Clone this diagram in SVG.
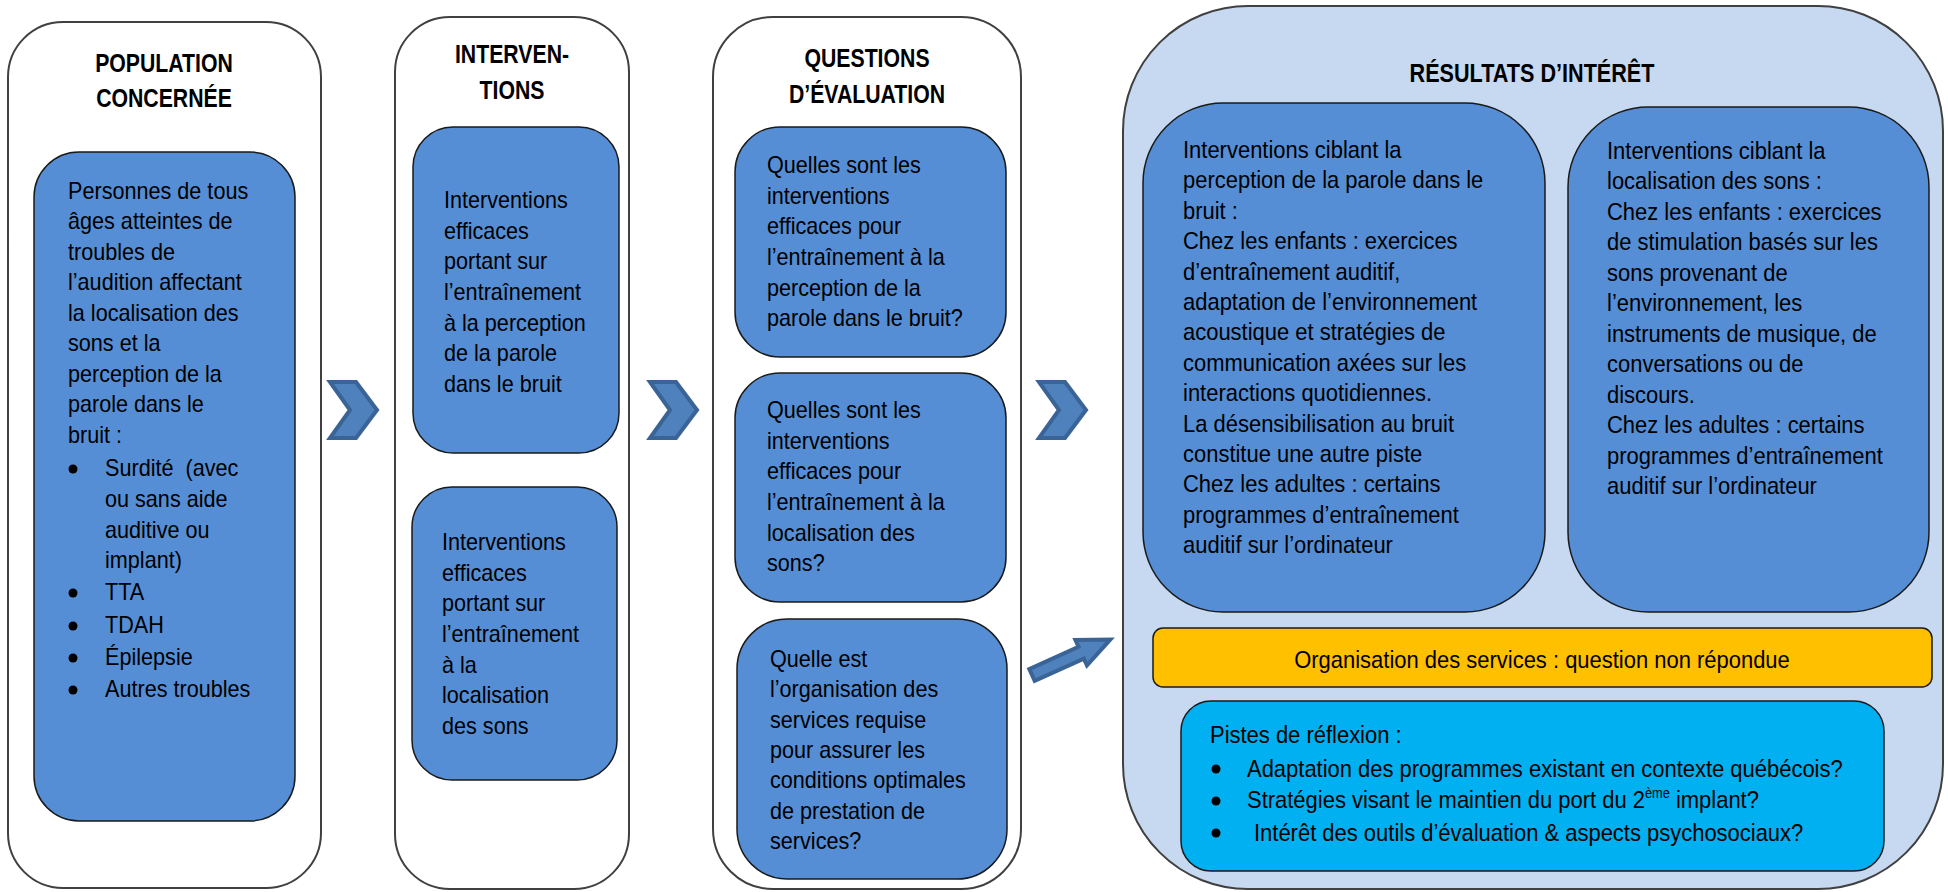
<svg xmlns="http://www.w3.org/2000/svg" width="1948" height="892" viewBox="0 0 1948 892">
<defs>
<style>
.outer{fill:#ffffff;stroke:#404040;stroke-width:2}
.res{fill:#c6d9f1;stroke:#404040;stroke-width:2}
.box{fill:#558ed5;stroke:#1a1a1a;stroke-width:1.5}
.org{fill:#ffc000;stroke:#1a1a1a;stroke-width:1.5}
.pis{fill:#00b0f0;stroke:#1a1a1a;stroke-width:1.5}
.h{font-family:"Liberation Sans",Arial,sans-serif;font-weight:bold;font-size:25px;fill:#000;text-anchor:middle}
.t{font-family:"Liberation Sans",Arial,sans-serif;font-size:23px;fill:#000}
.r{font-family:"Liberation Sans",Arial,sans-serif;font-size:24px;fill:#000}
.chev{fill:#4f81bd;stroke:#3a6496;stroke-width:4;stroke-linejoin:miter}
.dot{fill:#000}
</style>
</defs>

<g id="col-population">
<rect class="outer" x="8" y="22" width="313" height="866" rx="55"/>
<text class="h" transform="translate(164,0) scale(0.85,1)"><tspan x="0" y="72">POPULATION</tspan><tspan x="0" y="107">CONCERNÉE</tspan></text>
<g id="node-population">
<rect class="box" x="34" y="152" width="261" height="669" rx="45"/>
<text class="t" transform="translate(68,0) scale(0.94,1)">
<tspan x="0" y="199">Personnes de tous</tspan>
<tspan x="0" y="229.5">âges atteintes de</tspan>
<tspan x="0" y="260">troubles de</tspan>
<tspan x="0" y="290.5">l’audition affectant</tspan>
<tspan x="0" y="321">la localisation des</tspan>
<tspan x="0" y="351.5">sons et la</tspan>
<tspan x="0" y="382">perception de la</tspan>
<tspan x="0" y="412.5">parole dans le</tspan>
<tspan x="0" y="443">bruit :</tspan>
</text>
<text class="t" transform="translate(105,0) scale(0.94,1)" xml:space="preserve"><tspan x="0" y="476">Surdité  (avec</tspan><tspan x="0" y="507">ou sans aide</tspan><tspan x="0" y="538">auditive ou</tspan><tspan x="0" y="568">implant)</tspan><tspan x="0" y="600">TTA</tspan><tspan x="0" y="633">TDAH</tspan><tspan x="0" y="665">Épilepsie</tspan><tspan x="0" y="697">Autres troubles</tspan></text>
<circle class="dot" cx="73" cy="469" r="4.5"/>
<circle class="dot" cx="73" cy="593" r="4.5"/>
<circle class="dot" cx="73" cy="626" r="4.5"/>
<circle class="dot" cx="73" cy="658" r="4.5"/>
<circle class="dot" cx="73" cy="690" r="4.5"/>
</g>
</g>

<g id="col-interventions">
<rect class="outer" x="395" y="17" width="234" height="872" rx="55"/>
<text class="h" transform="translate(512,0) scale(0.85,1)"><tspan x="0" y="63">INTERVEN-</tspan><tspan x="0" y="99">TIONS</tspan></text>
<g id="node-int1">
<rect class="box" x="413" y="127" width="206" height="326" rx="40"/>
<text class="t" transform="translate(444,0) scale(0.94,1)">
<tspan x="0" y="208">Interventions</tspan>
<tspan x="0" y="238.7">efficaces</tspan>
<tspan x="0" y="269.3">portant sur</tspan>
<tspan x="0" y="300">l’entraînement</tspan>
<tspan x="0" y="330.7">à la perception</tspan>
<tspan x="0" y="361.3">de la parole</tspan>
<tspan x="0" y="392">dans le bruit</tspan>
</text>
</g>
<g id="node-int2">
<rect class="box" x="412" y="487" width="205" height="293" rx="40"/>
<text class="t" transform="translate(442,0) scale(0.94,1)">
<tspan x="0" y="550">Interventions</tspan>
<tspan x="0" y="580.7">efficaces</tspan>
<tspan x="0" y="611.3">portant sur</tspan>
<tspan x="0" y="642">l’entraînement</tspan>
<tspan x="0" y="672.7">à la</tspan>
<tspan x="0" y="703.3">localisation</tspan>
<tspan x="0" y="734">des sons</tspan>
</text>
</g>
</g>

<g id="col-questions">
<rect class="outer" x="713" y="17" width="308" height="872" rx="60"/>
<text class="h" transform="translate(867,0) scale(0.85,1)"><tspan x="0" y="67">QUESTIONS</tspan><tspan x="0" y="103">D’ÉVALUATION</tspan></text>
<g id="node-q1">
<rect class="box" x="735" y="127" width="271" height="230" rx="45"/>
<text class="t" transform="translate(767,0) scale(0.94,1)">
<tspan x="0" y="173">Quelles sont les</tspan>
<tspan x="0" y="203.7">interventions</tspan>
<tspan x="0" y="234.3">efficaces pour</tspan>
<tspan x="0" y="265">l’entraînement à la</tspan>
<tspan x="0" y="295.7">perception de la</tspan>
<tspan x="0" y="326.3">parole dans le bruit?</tspan>
</text>
</g>
<g id="node-q2">
<rect class="box" x="735" y="373" width="271" height="229" rx="45"/>
<text class="t" transform="translate(767,0) scale(0.94,1)">
<tspan x="0" y="418">Quelles sont les</tspan>
<tspan x="0" y="448.7">interventions</tspan>
<tspan x="0" y="479.3">efficaces pour</tspan>
<tspan x="0" y="510">l’entraînement à la</tspan>
<tspan x="0" y="540.7">localisation des</tspan>
<tspan x="0" y="571.3">sons?</tspan>
</text>
</g>
<g id="node-q3">
<rect class="box" x="737" y="619" width="270" height="260" rx="50"/>
<text class="t" transform="translate(770,0) scale(0.94,1)">
<tspan x="0" y="667">Quelle est</tspan>
<tspan x="0" y="697.3">l’organisation des</tspan>
<tspan x="0" y="727.7">services requise</tspan>
<tspan x="0" y="758">pour assurer les</tspan>
<tspan x="0" y="788.3">conditions optimales</tspan>
<tspan x="0" y="818.7">de prestation de</tspan>
<tspan x="0" y="849">services?</tspan>
</text>
</g>
</g>

<g id="col-resultats">
<rect class="res" x="1123" y="6" width="820" height="883" rx="125"/>
<text class="h" transform="translate(1532,0) scale(0.865,1)"><tspan x="0" y="82">RÉSULTATS D’INTÉRÊT</tspan></text>
<g id="node-r1">
<rect class="box" x="1143" y="103" width="402" height="509" rx="80"/>
<text class="r" transform="translate(1183,0) scale(0.915,1)">
<tspan x="0" y="158">Interventions ciblant la</tspan>
<tspan x="0" y="188.4">perception de la parole dans le</tspan>
<tspan x="0" y="218.8">bruit :</tspan>
<tspan x="0" y="249.2">Chez les enfants : exercices</tspan>
<tspan x="0" y="279.6">d’entraînement auditif,</tspan>
<tspan x="0" y="310">adaptation de l’environnement</tspan>
<tspan x="0" y="340.4">acoustique et stratégies de</tspan>
<tspan x="0" y="370.8">communication axées sur les</tspan>
<tspan x="0" y="401.2">interactions quotidiennes.</tspan>
<tspan x="0" y="431.6">La désensibilisation au bruit</tspan>
<tspan x="0" y="462">constitue une autre piste</tspan>
<tspan x="0" y="492.4">Chez les adultes : certains</tspan>
<tspan x="0" y="522.8">programmes d’entraînement</tspan>
<tspan x="0" y="553.2">auditif sur l’ordinateur</tspan>
</text>
</g>
<g id="node-r2">
<rect class="box" x="1568" y="107" width="361" height="505" rx="80"/>
<text class="r" transform="translate(1607,0) scale(0.915,1)">
<tspan x="0" y="159">Interventions ciblant la</tspan>
<tspan x="0" y="189.5">localisation des sons :</tspan>
<tspan x="0" y="220">Chez les enfants : exercices</tspan>
<tspan x="0" y="250.5">de stimulation basés sur les</tspan>
<tspan x="0" y="281">sons provenant de</tspan>
<tspan x="0" y="311.5">l’environnement, les</tspan>
<tspan x="0" y="342">instruments de musique, de</tspan>
<tspan x="0" y="372.5">conversations ou de</tspan>
<tspan x="0" y="403">discours.</tspan>
<tspan x="0" y="433.5">Chez les adultes : certains</tspan>
<tspan x="0" y="464">programmes d’entraînement</tspan>
<tspan x="0" y="494.5">auditif sur l’ordinateur</tspan>
</text>
</g>
<g id="node-org">
<rect class="org" x="1153" y="628" width="779" height="59" rx="10"/>
<text class="r" transform="translate(1542,0) scale(0.915,1)" text-anchor="middle"><tspan x="0" y="668">Organisation des services : question non répondue</tspan></text>
</g>
<g id="node-pistes">
<rect class="pis" x="1181" y="701" width="703" height="170" rx="30"/>
<text class="r" transform="translate(1210,0) scale(0.915,1)"><tspan x="0" y="743">Pistes de réflexion :</tspan></text>
<text class="r" transform="translate(1247,0) scale(0.915,1)"><tspan x="0" y="777">Adaptation des programmes existant en contexte québécois?</tspan><tspan x="0" y="808">Stratégies visant le maintien du port du 2</tspan><tspan font-size="14" dy="-10">ème</tspan><tspan dy="10"> implant?</tspan></text>
<text class="r" transform="translate(1254,0) scale(0.915,1)"><tspan x="0" y="841">Intérêt des outils d’évaluation &amp; aspects psychosociaux?</tspan></text>
<circle class="dot" cx="1216" cy="769" r="4.5"/>
<circle class="dot" cx="1216" cy="801" r="4.5"/>
<circle class="dot" cx="1216" cy="833" r="4.5"/>
</g>
</g>

<g id="connectors">
<polygon class="chev" points="330,382 356,382 377,410 356,438 330,438 350,410"/>
<polygon class="chev" points="650,382 676,382 697,410 676,438 650,438 670,410"/>
<polygon class="chev" points="1039,382 1065,382 1086,410 1065,438 1039,438 1059,410"/>
<path class="chev" stroke-width="3.5" d="M0,-6.5 L54,-6.5 L54,-14 L86,0 L54,14 L54,6.5 L0,6.5 Z" transform="translate(1032,675) rotate(-24.4)"/>
</g>
</svg>
